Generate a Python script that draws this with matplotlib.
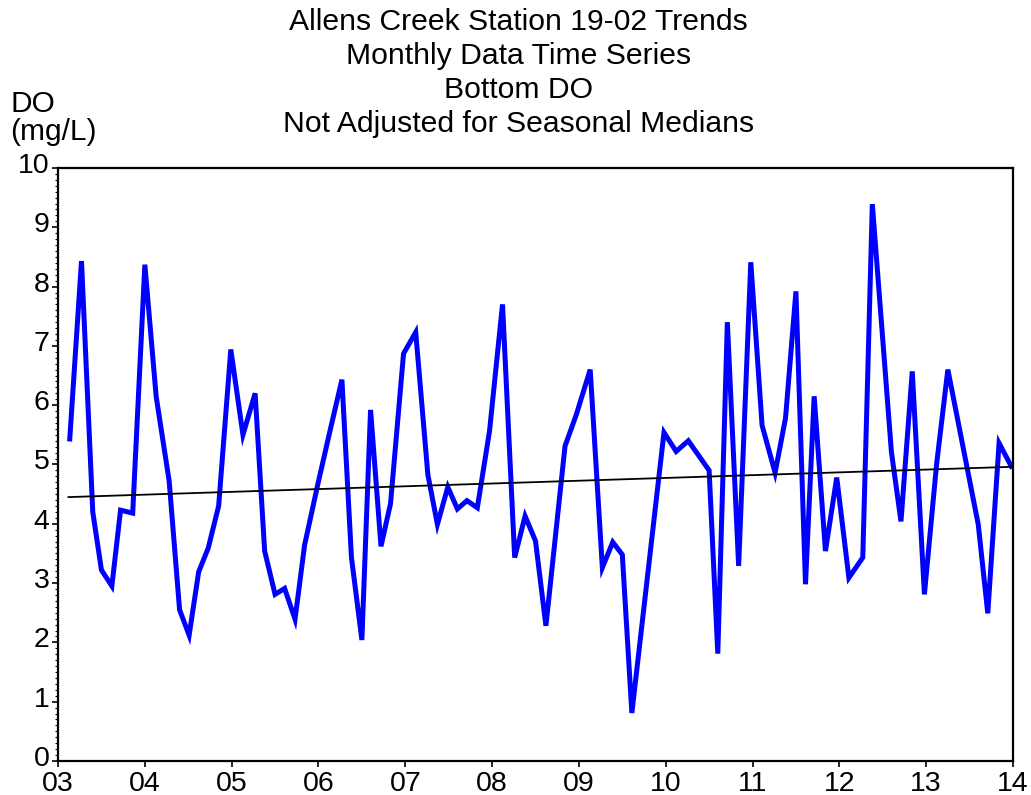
import matplotlib.pyplot as plt
import matplotlib.transforms as mtransforms
from matplotlib.ticker import MultipleLocator

plt.rcParams['font.family'] = ['Liberation Sans', 'DejaVu Sans']

# sampling dates (decimal years) and bottom dissolved oxygen, mg/L
years = [2003.135, 2003.27, 2003.40, 2003.50, 2003.62, 2003.72, 2003.86, 2004.00,
         2004.13, 2004.28, 2004.40, 2004.51, 2004.62, 2004.73, 2004.85, 2004.99,
         2005.13, 2005.27, 2005.38, 2005.50, 2005.61, 2005.73, 2005.84, 2005.99, 2006.13, 2006.27,
         2006.38, 2006.50, 2006.60, 2006.72, 2006.83, 2006.98, 2007.12, 2007.26, 2007.37, 2007.49,
         2007.60, 2007.71, 2007.83, 2007.97,
         2008.12, 2008.26, 2008.38, 2008.50, 2008.62, 2008.84, 2008.97, 2009.13, 2009.27, 2009.39,
         2009.50, 2009.61, 2009.98,
         2010.12, 2010.26, 2010.50, 2010.60, 2010.71, 2010.84, 2010.98, 2011.11, 2011.26, 2011.38,
         2011.50, 2011.61, 2011.71, 2011.84, 2011.97, 2012.11, 2012.27, 2012.38, 2012.60, 2012.71,
         2012.84, 2012.98, 2013.12, 2013.25, 2013.60, 2013.71, 2013.84, 2013.98]
do_values = [5.43, 8.43, 4.20, 3.22, 2.95, 4.23, 4.18, 8.37,
             6.15, 4.72, 2.55, 2.12, 3.19, 3.59, 4.30, 6.94,
             5.50, 6.20, 3.54, 2.81, 2.91, 2.39, 3.64, 4.65, 5.55, 6.43,
             3.43, 2.04, 5.92, 3.62, 4.34, 6.87, 7.23, 4.83, 3.99, 4.62,
             4.25, 4.39, 4.27, 5.56,
             7.70, 3.43, 4.13, 3.71, 2.28, 5.31, 5.84, 6.60, 3.26, 3.69,
             3.48, 0.81, 5.54,
             5.22, 5.40, 4.90, 1.81, 7.40, 3.29, 8.41, 5.66, 4.86, 5.78,
             7.92, 2.98, 6.15, 3.54, 4.78, 3.09, 3.43, 9.39, 5.21, 4.04,
             6.57, 2.81, 5.00, 6.60, 3.99, 2.49, 5.36, 4.97]

# trend line end points
trend_years = [2003.12, 2013.98]
trend_values = [4.45, 4.96]

year_ticks = list(range(2003, 2015))
year_labels = ['03', '04', '05', '06', '07', '08', '09', '10', '11', '12', '13', '14']

fig = plt.figure(figsize=(10.31, 7.95), dpi=100)
ax = fig.add_axes([0.0563, 0.0428, 0.9262, 0.7459])

ax.plot(years, do_values, color='#0000ff', lw=3.6, solid_joinstyle='miter')
ax.plot(trend_years, trend_values, color='black', lw=1.3)

ax.set_xlim(2003, 2014)
ax.set_ylim(0, 10)
ax.set_xticks(year_ticks)
ax.set_xticklabels(year_labels)
ax.yaxis.set_major_locator(MultipleLocator(1))
ax.yaxis.set_minor_locator(MultipleLocator(0.1))
ax.tick_params(axis='both', which='major', labelsize=20.5, length=4, width=1.2, pad=2)
ax.tick_params(axis='x', which='major', pad=3)
ax.tick_params(axis='y', which='minor', length=2, width=0.8)
for s in ax.spines.values():
    s.set_linewidth(1.6)

# y labels sit a little above their ticks
lift = mtransforms.ScaledTranslation(0, 5 / 100, fig.dpi_scale_trans)
for lbl in ax.get_yticklabels():
    lbl.set_transform(lbl.get_transform() + lift)

fig.text(0.503, 0.990, 'Allens Creek Station 19-02 Trends\nMonthly Data Time Series\n'
         'Bottom DO\nNot Adjusted for Seasonal Medians',
         ha='center', va='top', fontsize=21.7, linespacing=1.27)
fig.text(0.010, 0.887, 'DO\n(mg/L)', ha='left', va='top', fontsize=21.5, linespacing=1.0)

fig.savefig('out.png', dpi=100)
